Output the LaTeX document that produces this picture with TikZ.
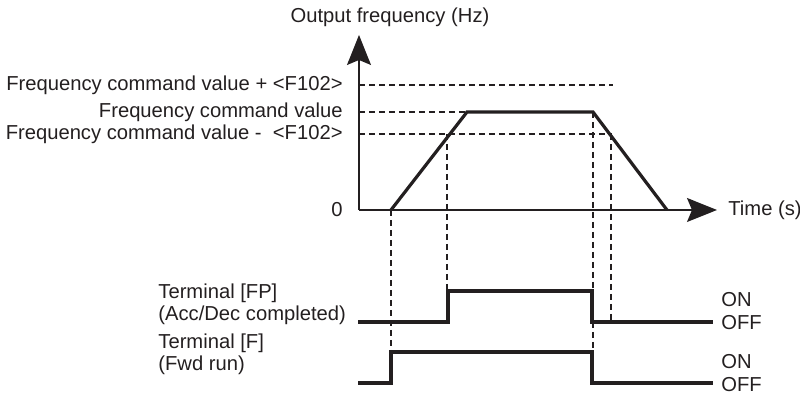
\documentclass[tikz,border=0pt]{standalone}
\usepackage{fontspec}
\setmainfont{Liberation Sans}
\usetikzlibrary{arrows.meta}
\definecolor{ink}{HTML}{231F20}

\begin{document}
\begin{tikzpicture}[x=0.5pt,y=-0.5pt,color=ink,
   every node/.style={font=\fontsize{10.1}{11}\selectfont,inner sep=0pt},
   axis/.style={line width=0.65pt,-{Stealth[length=15pt,width=12pt,inset=2.5pt]}},
   sig/.style={line width=1.6pt,line join=miter},
   guide/.style={line width=0.6pt,dash pattern=on 3pt off 2pt}]
  \useasboundingbox (0,0) rectangle (800,394);
  % axes
  \coordinate (O) at (359,210);
  \coordinate (ytop) at (359,35);
  \coordinate (xend) at (717,210);
  \draw[axis] (O)--(ytop);
  \draw[axis] (O)--(xend);
  \node (ylab) at (390,17) {Output frequency (Hz)};
  \node[anchor=west] (xlab) at (728,210) {Time (s)};
  \node[anchor=east] (zero) at (343,210) {0};
  % frequency levels
  \node[anchor=east] (fplus) at (343,85) {Frequency command value + <F102>};
  \node[anchor=east] (fcmd) at (343,112) {Frequency command value};
  \node[anchor=east] (fminus) at (343,134) {Frequency command value -\ \ <F102>};
  \draw[guide] (359,85)--(613,85);
  \draw[guide] (359,112)--(467,112);
  \draw[guide] (359,134)--(612,134);
  % output frequency
  \coordinate (r0) at (391,210); \coordinate (r1) at (467,112);
  \coordinate (r2) at (593,112); \coordinate (r3) at (667,210);
  \draw[sig] (r0)--(r1)--(r2)--(r3);
  % terminal FP
  \node[anchor=west] (fpa) at (158,293) {Terminal [FP]};
  \node[anchor=west] (fpb) at (158,315) {(Acc/Dec completed)};
  \draw[sig] (358,322)--(448,322)--(448,291)--(592,291)--(592,322)--(713,322);
  % terminal F
  \node[anchor=west] (fa) at (158,343) {Terminal [F]};
  \node[anchor=west] (fb) at (158,365) {(Fwd run)};
  \draw[sig] (358,383)--(391,383)--(391,352)--(592,352)--(592,383)--(713,383);
  \foreach \y/\t in {300/ON,323/OFF,362/ON,385/OFF}
    {\node[anchor=west] at (721,\y) {\t};}
  % timing guides
  \draw[guide] (391,210)--(391,352);
  \draw[guide] (447,134)--(447,291);
  \draw[guide] (593,112)--(593,383);
  \draw[guide] (611,134)--(611,322);
\end{tikzpicture}
\end{document}
